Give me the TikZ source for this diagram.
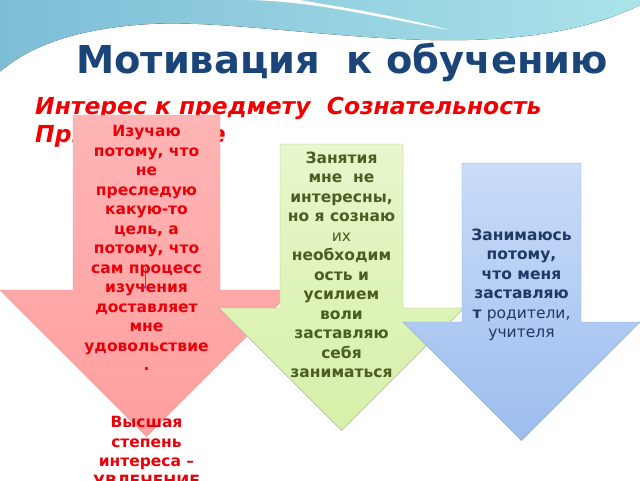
\documentclass[tikz,border=0pt]{standalone}
\usepackage{fontspec}
\setmainfont{DejaVu Sans}
\usetikzlibrary{positioning}
\definecolor{titleblue}{HTML}{1B4579}
\definecolor{subred}{HTML}{F00000}
\definecolor{redtext}{HTML}{E8000A}
\definecolor{greentext}{HTML}{4A5E22}
\definecolor{bluetext}{HTML}{1F3864}
\definecolor{skyA}{HTML}{7DBDD6}
\definecolor{skyB}{HTML}{ABE3EA}
\definecolor{pinkA}{HTML}{FFB5B5}
\definecolor{pinkB}{HTML}{FF9E9E}
\definecolor{limeA}{HTML}{E8F7CC}
\definecolor{limeB}{HTML}{D6F0A8}
\definecolor{paleA}{HTML}{C9DCF8}
\definecolor{paleB}{HTML}{9CBDEE}

\begin{document}
\begin{tikzpicture}[x=1pt, y=-1pt,
                    >=latex,
                    redarrow/.style={draw=pinkB!80!black!70, top color=pinkA, bottom color=pinkB},
                    greenarrow/.style={draw=limeB!70!black!80, top color=limeA, bottom color=limeB},
                    bluearrow/.style={draw=paleB!80!black!80, top color=paleA, bottom color=paleB},
                    arrowtext/.style={align=center, inner sep=0pt, font=\fontsize{15.5}{19.5}\selectfont\bfseries}]

                \useasboundingbox (0,0) rectangle (640,480);
                \fill[white] (0,0) rectangle (640,480);

                % sky band at the top
                \fill[left color=skyA, right color=skyB] (0,0) -- (640,0) -- (640,5)
                    .. controls (590,30) and (520,42) .. (430,40)
                    .. controls (330,38) and (220,20) .. (150,24)
                    .. controls (80,28) and (30,45) .. (0,72) -- cycle;
                \fill[white] (0,72) .. controls (40,42) and (110,24) .. (190,24)
                    .. controls (100,30) and (40,50) .. (0,78) -- cycle;
                \fill[white] (250,0) .. controls (320,2) and (380,18) .. (450,30)
                    .. controls (380,12) and (320,4) .. (300,0) -- cycle;
                \draw[white, line width=1pt] (470,44) .. controls (540,40) and (600,25) .. (640,12);

                \node[font=\fontsize{38.4}{42}\selectfont\bfseries, text=titleblue] (title) at (342,62) {Мотивация\ \ к обучению};
                \node[anchor=north west, align=left, inner sep=0pt, text=subred,
                      font=\fontsize{23.4}{28}\selectfont\bfseries\itshape] (sub) at (35,97)
                    {Интерес к предмету\ \ Сознательность\\Принуждение};

                % arrows
                \draw[redarrow] (73,115) -- (220,115) -- (220,290) -- (293,290) -- (146.5,436.5) -- (0,290) -- (73,290) -- cycle;
                \draw[greenarrow] (280,144) -- (403,144) -- (403,308) -- (464,308) -- (341.5,430.5) -- (219,308) -- (280,308) -- cycle;
                \draw[bluearrow] (462,163) -- (581,163) -- (581,322) -- (640,322) -- (521.5,440.5) -- (403,322) -- (462,322) -- cycle;

                \node[arrowtext, text=redtext] (interest) at (146.5,248)
                    {Изучаю\\потому, что\\не\\преследую\\какую-то\\цель, а\\потому, что\\сам процесс\\изучения\\доставляет\\мне\\удовольствие\\.};
                \draw[->, violet!80, thin] (145,268) -- (145,290);
                \node[arrowtext, text=greentext] (duty) at (341.5,265)
                    {Занятия\\мне\ \ не\\интересны,\\но я сознаю\\{\mdseries их}\\необходим\\ость и\\усилием\\воли\\заставляю\\себя\\заниматься};
                \node[arrowtext, text=bluetext] (force) at (521.5,285)
                    {Занимаюсь\\потому,\\что меня\\заставляю\\т {\mdseries родители,}\\{\mdseries учителя}};
                \node[arrowtext, text=redtext, anchor=north] (passion) at (146.5,416)
                    {Высшая\\степень\\интереса –\\УВЛЕЧЕНИЕ};

            \end{tikzpicture}
\end{document}
